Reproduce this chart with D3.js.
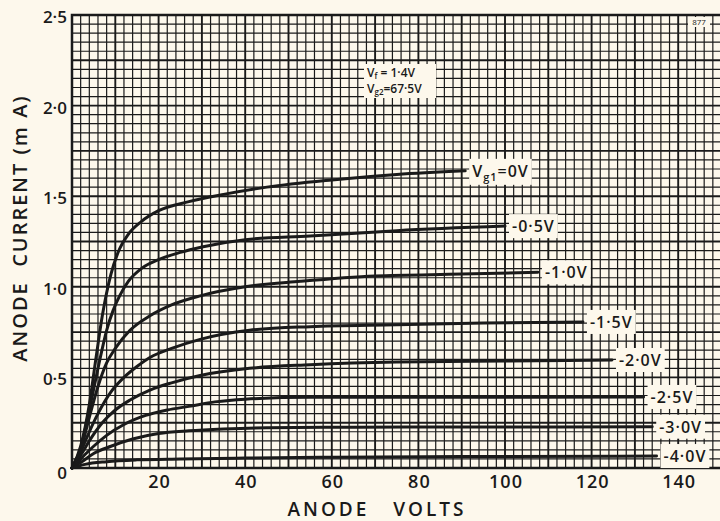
<!DOCTYPE html>
<html>
<head>
<meta charset="utf-8">
<script src="https://d3js.org/d3.v7.min.js"></script>
<style>
  body { margin: 0; background: #fdf8ec; }
  svg { display: block; }
</style>
</head>
<body>
<svg id="chart" width="720" height="521"></svg>
<script>

// anode volts / anode current (mA), one array per grid bias
var vg0  = [[0,0],[2,0.12],[4,0.35],[5.5,0.6],[7,0.84],[9,1.07],[11,1.21],[13,1.29],[16,1.36],[20,1.42],[27,1.47],[35,1.51],[45,1.55],[60,1.59],[75,1.62],[90.8,1.64]];
var vg05 = [[0,0],[2,0.11],[4,0.32],[6,0.55],[8,0.76],[9.5,0.87],[11,0.95],[13,1.03],[16,1.1],[20,1.15],[25,1.19],[30,1.22],[40,1.26],[55,1.28],[75,1.31],[100,1.335]];
var vg10 = [[0,0],[2,0.1],[4,0.28],[6,0.45],[8,0.58],[10,0.66],[13.4,0.76],[18,0.84],[23,0.9],[29.6,0.95],[40,1.0],[52.7,1.03],[70,1.06],[90,1.07],[107.6,1.08]];
var vg15 = [[0,0],[2,0.09],[4,0.2],[6,0.3],[9,0.42],[12,0.5],[15,0.56],[18,0.61],[23,0.66],[29.6,0.71],[41,0.76],[55,0.78],[75,0.79],[95,0.8],[118,0.806]];
var vg20 = [[0,0],[2,0.07],[4,0.15],[7,0.25],[10,0.32],[13.4,0.375],[18,0.43],[23,0.47],[29.6,0.51],[41,0.55],[55,0.57],[75,0.585],[100,0.59],[124.7,0.596]];
var vg25 = [[0,0],[2,0.05],[5,0.12],[8,0.18],[12,0.24],[17,0.29],[22,0.32],[27,0.34],[33,0.365],[40,0.38],[55,0.39],[80,0.39],[105,0.39],[132,0.392]];
var vg30 = [[0,0],[2,0.03],[5,0.08],[9,0.12],[14,0.16],[20,0.19],[27,0.205],[35,0.215],[45,0.222],[65,0.225],[90,0.226],[134,0.228]];
var vg40 = [[0,0],[3,0.02],[8,0.035],[15,0.045],[25,0.05],[40,0.055],[60,0.06],[90,0.063],[135,0.066]];

var curves = [vg0, vg05, vg10, vg15, vg20, vg25, vg30, vg40];
var curveLabels = ["0V", "-0·5V", "-1·0V", "-1·5V", "-2·0V", "-2·5V", "-3·0V", "-4·0V"];

var xTicks = [20, 40, 60, 80, 100, 120, 140];
var yTicks = [0, 0.5, 1.0, 1.5, 2.0, 2.5];
var yTickLabels = ["0", "0·5", "1·0", "1·5", "2·0", "2·5"];

var svg = d3.select("#chart"),
    ink = "#1a1a1a",
    paper = "#fdf8ec",
    font = "'Open Sans', 'DejaVu Sans', sans-serif";

var x = d3.scaleLinear().domain([0, 150]).range([72, 721.5]),
    y = d3.scaleLinear().domain([0, 2.5]).range([468, 15]);

svg.append("rect").attr("width", 720).attr("height", 521).attr("fill", paper);

// graph paper: fine lines every 2 V / 0.05 mA, heavier every 10 V / 0.25 mA
var grid = svg.append("g");

grid.selectAll("line.v")
    .data(d3.range(2, 151, 2))
    .enter().append("line")
    .attr("x1", function(d) { return x(d); })
    .attr("x2", function(d) { return x(d); })
    .attr("y1", y(2.5))
    .attr("y2", y(0))
    .attr("stroke", ink)
    .attr("stroke-width", function(d) { return d % 10 == 0 ? 1.9 : 1.2; });

grid.selectAll("line.h")
    .data(d3.range(1, 50))
    .enter().append("line")
    .attr("x1", x(0))
    .attr("x2", 720)
    .attr("y1", function(d) { return y(d * 0.05); })
    .attr("y2", function(d) { return y(d * 0.05); })
    .attr("stroke", ink)
    .attr("stroke-width", function(d) { return d % 5 == 0 ? 1.9 : 1.2; });

// frame
svg.append("path")
    .attr("d", "M720," + y(2.5) + "H" + x(0) + "V" + y(0) + "H720")
    .attr("fill", "none")
    .attr("stroke", ink)
    .attr("stroke-width", 2.5);

// characteristic curves
var line = d3.line()
    .x(function(d) { return x(d[0]); })
    .y(function(d) { return y(d[1]); })
    .curve(d3.curveMonotoneX);

svg.append("g").selectAll("path")
    .data(curves)
    .enter().append("path")
    .attr("d", line)
    .attr("fill", "none")
    .attr("stroke", ink)
    .attr("stroke-width", 3)
    .attr("stroke-linecap", "round");

// labels at the end of each curve, on a blank patch of paper
var labels = svg.append("g")
    .attr("font-family", font)
    .attr("font-weight", 600)
    .attr("font-size", 16)
    .attr("fill", ink);

curves.forEach(function(c, i) {
    var last = c[c.length - 1],
        lx = x(last[0]) + 4,
        ly = y(last[1]);

    var g = labels.append("g");
    var bg = g.append("rect").attr("fill", paper);
    var t = g.append("text")
        .attr("x", lx + 3)
        .attr("y", ly + 6)
        .attr("letter-spacing", 1);

    if (i == 0) {
        t.append("tspan").text("V");
        t.append("tspan").attr("font-size", 11).attr("dy", 4).text("g1");
        t.append("tspan").attr("dy", -4).text("=" + curveLabels[i]);
    } else {
        t.text(curveLabels[i]);
    }

    var bb = t.node().getBBox();
    bg.attr("x", bb.x - 3).attr("y", bb.y - 1)
      .attr("width", bb.width + 6).attr("height", bb.height + 2);
});

// operating conditions note
var note = svg.append("g")
    .attr("font-family", font)
    .attr("font-weight", 600)
    .attr("font-size", 12)
    .attr("fill", ink);

note.append("rect").attr("x", 364).attr("y", 64).attr("width", 72).attr("height", 34).attr("fill", paper);

var n1 = note.append("text").attr("x", 367).attr("y", 77);
n1.append("tspan").text("V");
n1.append("tspan").attr("font-size", 8).attr("dy", 2).text("f");
n1.append("tspan").attr("dy", -2).text(" = 1·4V");

var n2 = note.append("text").attr("x", 367).attr("y", 93);
n2.append("tspan").text("V");
n2.append("tspan").attr("font-size", 8).attr("dy", 2).text("g2");
n2.append("tspan").attr("dy", -2).text("=67·5V");

svg.append("rect").attr("x", 688).attr("y", 17).attr("width", 22).attr("height", 10).attr("fill", paper);
svg.append("text")
    .attr("x", 699).attr("y", 25)
    .attr("text-anchor", "middle")
    .attr("font-family", font)
    .attr("font-size", 8)
    .attr("fill", ink)
    .text("877");

// axis tick labels
svg.append("g").selectAll("text")
    .data(xTicks)
    .enter().append("text")
    .attr("x", function(d) { return x(d) + 1; })
    .attr("y", 488)
    .attr("text-anchor", "middle")
    .attr("font-family", font)
    .attr("font-weight", 600)
    .attr("font-size", 18)
    .attr("letter-spacing", 1)
    .attr("fill", ink)
    .text(function(d) { return d; });

svg.append("g").selectAll("text")
    .data(yTicks)
    .enter().append("text")
    .attr("x", 67)
    .attr("y", function(d) { return y(d) + (d == 0 ? 11 : 8); })
    .attr("text-anchor", "end")
    .attr("font-family", font)
    .attr("font-weight", 600)
    .attr("font-size", 17)
    .attr("fill", ink)
    .text(function(d, i) { return yTickLabels[i]; });

// axis titles
svg.append("text")
    .attr("x", 377)
    .attr("y", 516)
    .attr("text-anchor", "middle")
    .attr("font-family", font)
    .attr("font-weight", 600)
    .attr("font-size", 19)
    .attr("letter-spacing", 3)
    .attr("fill", ink)
    .attr("xml:space", "preserve")
    .text("ANODE   VOLTS");

svg.append("text")
    .attr("transform", "translate(27,228) rotate(-90)")
    .attr("text-anchor", "middle")
    .attr("font-family", font)
    .attr("font-weight", 600)
    .attr("font-size", 20)
    .attr("letter-spacing", 2)
    .attr("fill", ink)
    .attr("xml:space", "preserve")
    .text("ANODE  CURRENT (m A)");

</script>
</body>
</html>
